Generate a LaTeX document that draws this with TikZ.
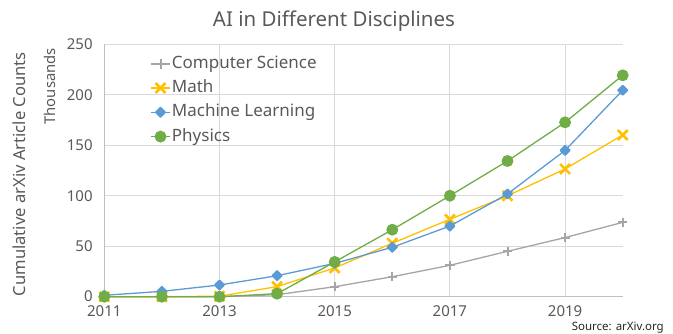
\documentclass[tikz,border=0pt]{standalone}
\usepackage{fontspec}
\setmainfont{Noto Sans}
\usetikzlibrary{plotmarks}
\definecolor{csg}{HTML}{A5A5A5}
\definecolor{mth}{HTML}{FFC000}
\definecolor{mlb}{HTML}{5B9BD5}
\definecolor{phg}{HTML}{70AD47}
\definecolor{txt}{HTML}{595959}
\definecolor{gridc}{HTML}{D9D9D9}
\definecolor{axisc}{HTML}{BFBFBF}
\definecolor{srcc}{HTML}{262626}
\begin{document}
\begin{tikzpicture}[x=1pt,y=1pt,
  series/.style={line width=1.3pt, line join=round},
  csline/.style={series, draw=csg, mark=+, mark size=4.6pt, mark options={line width=2pt, draw=csg}},
  mathline/.style={series, draw=mth, mark=x, mark size=7pt, mark options={line width=2.6pt, draw=mth}},
  mlline/.style={series, draw=mlb, mark=diamond*, mark size=4.6pt, mark options={xscale=1.333, fill=mlb, draw=mlb, line width=1.8pt, line join=round}},
  phline/.style={series, draw=phg, mark=*, mark size=5.3pt, mark options={fill=phg, draw=phg}},
  gridline/.style={draw=gridc, line width=1pt},
  axisline/.style={draw=axisc, line width=1pt},
  ticklab/.style={text=txt, font=\fontsize{15}{18}\selectfont, inner sep=0pt},
  leglab/.style={text=txt, font=\fontsize{17}{20}\selectfont, inner sep=0pt, anchor=base west},
]
\useasboundingbox (0,0) rectangle (673,-333);

% title
\node[text=txt, font=\fontsize{20.5}{24}\selectfont, inner sep=0pt, anchor=base] (title) at (334,-26.7) {AI in Different Disciplines};

% axis titles
\node[text=txt, font=\fontsize{16.6}{20}\selectfont, inner sep=0pt, anchor=base, rotate=90] (ylab) at (25,-174.2) {Cumulative arXiv Article Counts};
\node[text=txt, font=\fontsize{14.8}{18}\selectfont, inner sep=0pt, anchor=base, rotate=90] (ythou) at (56,-86.3) {Thousands};

% plot area
\begin{scope}[shift={(104.3,-296.7)}, x=57.6pt, y=1.009pt]
  \foreach \v in {50,100,...,250} \draw[gridline] (0,\v) -- (9,\v);
  \foreach \t in {2,4,6,8} \draw[gridline] (\t,0) -- (\t,250);
  \draw[axisline] (0,250) -- (0,0) -- (9,0);

  \draw[csline] plot coordinates {(0,0) (1,0) (2,0) (3,2) (4,9.9) (5,19.8) (6,31.1) (7,45) (8,58.6) (9,73.7)};
  \draw[mathline] plot coordinates {(0,0) (1,0) (2,0.5) (3,10) (4,28.5) (5,53) (6,76.7) (7,100) (8,126.6) (9,160.3)};
  \draw[mlline] plot coordinates {(0,1.4) (1,5.3) (2,11.6) (3,20.8) (4,33) (5,49) (6,70) (7,101.8) (8,145) (9,204.6)};
  \draw[phline] plot coordinates {(0,0) (1,0) (2,0) (3,3) (4,34.5) (5,66.4) (6,100.1) (7,134.5) (8,172.8) (9,219.4)};

  \foreach \v/\n in {0/y0,50/y50,100/y100,150/y150,200/y200,250/y250}
    \node[ticklab, anchor=base east] (\n) at (-0.2,\v-5.2) {\v};
  \foreach \t/\yr in {0/2011,2/2013,4/2015,6/2017,8/2019}
    \node[ticklab, anchor=base] (x\yr) at (\t,-20) {\yr};
\end{scope}

% legend
\draw[csline] plot[mark indices={2}] coordinates {(151,-64) (160.5,-64) (170,-64)};
\node[leglab] (lcs) at (171.7,-68.6) {Computer Science};
\draw[mathline] plot[mark indices={2}] coordinates {(151,-88) (160.5,-88) (170,-88)};
\node[leglab] (lmath) at (171.7,-92.7) {Math};
\draw[mlline] plot[mark indices={2}] coordinates {(151,-112.3) (160.5,-112.3) (170,-112.3)};
\node[leglab] (lml) at (171.7,-116.9) {Machine Learning};
\draw[phline] plot[mark indices={2}] coordinates {(151,-136.6) (160.5,-136.6) (170,-136.6)};
\node[leglab] (lph) at (171.7,-141.2) {Physics};

% source
\node[text=srcc, font=\fontsize{11.5}{14}\selectfont, inner sep=0pt, anchor=base east] (src) at (664,-330) {Source: arXiv.org};
\end{tikzpicture}
\end{document}
